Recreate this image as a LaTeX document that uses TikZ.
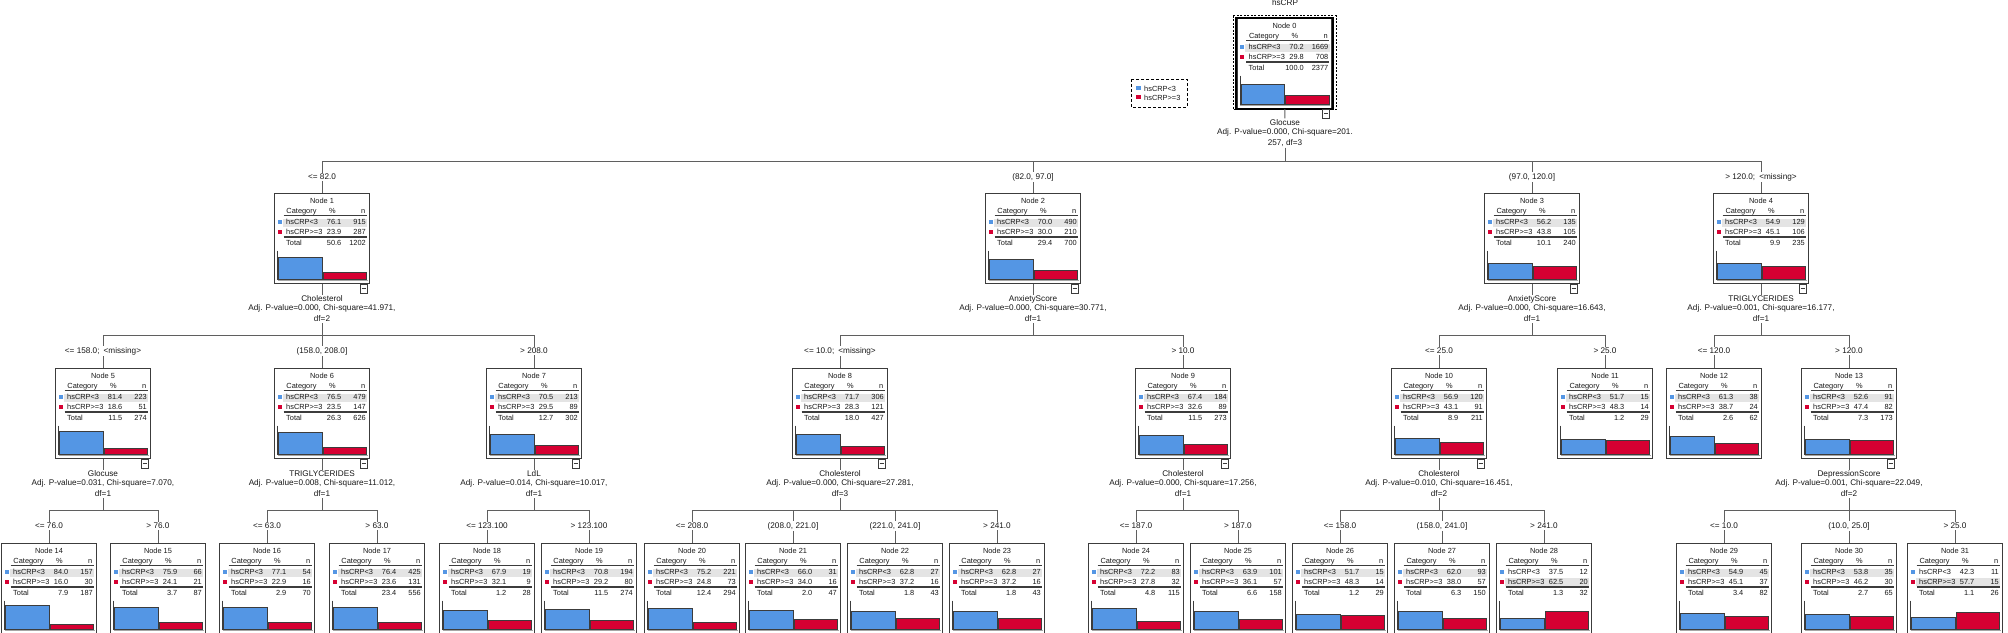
\documentclass[tikz,border=0pt]{standalone}
\usepackage{fontspec}
\setmainfont{Liberation Sans}
\definecolor{cblue}{RGB}{84,150,228}
\definecolor{cred}{RGB}{214,0,50}
\definecolor{lnc}{RGB}{95,95,95}
\definecolor{bdr}{RGB}{60,60,60}
\definecolor{band}{RGB}{228,228,228}
\definecolor{txtc}{RGB}{25,25,25}
\tikzset{
 every node/.style={font=\fontsize{8.2}{9.5}\selectfont, text=txtc, inner sep=0pt},
 nodebox/.style={draw=bdr, line width=1.2pt, minimum width=95pt, minimum height=90pt, anchor=north},
 conn/.style={draw=lnc, line width=1pt},
 elabel/.style={fill=white, inner sep=1.2pt, anchor=base},
 splittxt/.style={align=center, fill=white, inner sep=1pt},
 barbox/.style={draw=bdr, line width=0.8pt},
 rule/.style={draw=bdr, line width=0.9pt},
 dblrule/.style={draw=bdr, line width=1.4pt},
 collapsebox/.style={draw=bdr, line width=0.8pt, fill=white},
 legendbox/.style={draw=black, line width=0.8pt, dash pattern=on 3pt off 2pt},
 tabletext/.style={font=\fontsize{7.4}{9}\selectfont},
}
\newcommand\tnode[9]{%
 \node[nodebox] (n#3) at (#1,#2) {};
 \begin{scope}[shift={(#1-47.5,#2)}, every node/.append style={tabletext}]
  \ifdim #6pt>#4pt \fill[band] (8,35) rectangle (92.5,43);\else\fill[band] (8,25.5) rectangle (92.5,34);\fi
  \node[anchor=base] (n#3-t) at (47.5,10) {Node #3};
  \node[anchor=base] (n#3-hc) at (27,20) {Category};
  \node[anchor=base] (n#3-hp) at (58,20) {\%};
  \node[anchor=base east] (n#3-hn) at (91,20) {n};
  \draw[rule] (9,22.3) -- (92,22.3);
  \fill[cblue] (3,26.5) rectangle (7.3,30.8);
  \fill[cred] (3,36.5) rectangle (7.3,40.8);
  \node[anchor=base west] (n#3-c1) at (11.5,31) {hsCRP<3};
  \node[anchor=base west] (n#3-c2) at (11.5,41) {hsCRP>=3};
  \node[anchor=base east] (n#3-p1) at (67,31) {#4};
  \node[anchor=base east] (n#3-k1) at (91.5,31) {#5};
  \node[anchor=base east] (n#3-p2) at (67,41) {#6};
  \node[anchor=base east] (n#3-k2) at (91.5,41) {#7};
  \draw[dblrule] (9,44) -- (92,44);
  \node[anchor=base west] (n#3-tt) at (11.5,52.7) {Total};
  \node[anchor=base east] (n#3-pt) at (67,52.7) {#8};
  \node[anchor=base east] (n#3-kt) at (91.5,52.7) {#9};
  \draw[bdr, line width=0.8pt] (3,57.5) -- (3,87);
  \draw[gray!70, line width=1pt] (3,87.6) -- (93,87.6);
  \draw[barbox, fill=cblue] (4,86) rectangle (47.5,{86-#4*0.28});
  \draw[barbox, fill=cred] (48.5,86) rectangle (92,{86-#6*0.28});
 \end{scope}}
\newcommand\collapse[1]{%
 \draw[collapsebox] ([xshift=-10pt]n#1.south east) rectangle ++(7,9);
 \draw[bdr, line width=0.8pt] ([xshift=-8.5pt,yshift=-4.5pt]n#1.south east) -- ++(4,0);}
\newcommand\splitn[6]{%
 \node[splittxt] (s#1) at (#2,#3) {#4\\[-0.5pt]#5\\[1.5pt]#6};}
\begin{document}
\begin{tikzpicture}[x=1pt,y=-1pt]
\useasboundingbox (0,0) rectangle (2008,632);
\fill[white] (0,0) rectangle (2008,632);

% title and legend
\node[anchor=base] (title) at (1285,5.5) {hsCRP};
\draw[legendbox] (1131,79) rectangle (1187,107);
\fill[cblue] (1136,85.5) rectangle (1140.5,90);
\fill[cred] (1136,94.5) rectangle (1140.5,99);
\node[anchor=base west, tabletext] (leg1) at (1144,91) {hsCRP<3};
\node[anchor=base west, tabletext] (leg2) at (1144,100) {hsCRP>=3};

% ---------- level 0
\tnode{1284.5}{18}{0}{70.2}{1669}{29.8}{708}{100.0}{2377}
\draw[black, line width=2pt] (n0.north west) rectangle (n0.south east);
\draw[black, line width=0.8pt, dash pattern=on 2pt off 1.5pt] (1233,15.5) rectangle (1336,109.5);
\collapse{0}
\splitn{0}{1285}{133}{Glocuse}{Adj. P-value=0.000, Chi-square=201.}{257, df=3}

% ---------- level 1
\tnode{322}{193}{1}{76.1}{915}{23.9}{287}{50.6}{1202}
\tnode{1033}{193}{2}{70.0}{490}{30.0}{210}{29.4}{700}
\tnode{1532}{193}{3}{56.2}{135}{43.8}{105}{10.1}{240}
\tnode{1761}{193}{4}{54.9}{129}{45.1}{106}{9.9}{235}
\collapse{1}\collapse{2}\collapse{3}\collapse{4}
\splitn{1}{322}{309}{Cholesterol}{Adj. P-value=0.000, Chi-square=41.971,}{df=2}
\splitn{2}{1033}{309}{AnxietyScore}{Adj. P-value=0.000, Chi-square=30.771,}{df=1}
\splitn{3}{1532}{309}{AnxietyScore}{Adj. P-value=0.000, Chi-square=16.643,}{df=1}
\splitn{4}{1761}{309}{TRIGLYCERIDES}{Adj. P-value=0.001, Chi-square=16.177,}{df=1}

% ---------- level 2
\tnode{103}{368}{5}{81.4}{223}{18.6}{51}{11.5}{274}
\tnode{322}{368}{6}{76.5}{479}{23.5}{147}{26.3}{626}
\tnode{534}{368}{7}{70.5}{213}{29.5}{89}{12.7}{302}
\tnode{840}{368}{8}{71.7}{306}{28.3}{121}{18.0}{427}
\tnode{1183}{368}{9}{67.4}{184}{32.6}{89}{11.5}{273}
\tnode{1439}{368}{10}{56.9}{120}{43.1}{91}{8.9}{211}
\tnode{1605}{368}{11}{51.7}{15}{48.3}{14}{1.2}{29}
\tnode{1714}{368}{12}{61.3}{38}{38.7}{24}{2.6}{62}
\tnode{1849}{368}{13}{52.6}{91}{47.4}{82}{7.3}{173}
\collapse{5}\collapse{6}\collapse{7}\collapse{8}\collapse{9}\collapse{10}\collapse{13}
\splitn{5}{103}{484}{Glocuse}{Adj. P-value=0.031, Chi-square=7.070,}{df=1}
\splitn{6}{322}{484}{TRIGLYCERIDES}{Adj. P-value=0.008, Chi-square=11.012,}{df=1}
\splitn{7}{534}{484}{LdL}{Adj. P-value=0.014, Chi-square=10.017,}{df=1}
\splitn{8}{840}{484}{Cholesterol}{Adj. P-value=0.000, Chi-square=27.281,}{df=3}
\splitn{9}{1183}{484}{Cholesterol}{Adj. P-value=0.000, Chi-square=17.256,}{df=1}
\splitn{10}{1439}{484}{Cholesterol}{Adj. P-value=0.010, Chi-square=16.451,}{df=2}
\splitn{13}{1849}{484}{DepressionScore}{Adj. P-value=0.001, Chi-square=22.049,}{df=2}

% ---------- level 3
\tnode{49}{543}{14}{84.0}{157}{16.0}{30}{7.9}{187}
\tnode{158}{543}{15}{75.9}{66}{24.1}{21}{3.7}{87}
\tnode{267}{543}{16}{77.1}{54}{22.9}{16}{2.9}{70}
\tnode{377}{543}{17}{76.4}{425}{23.6}{131}{23.4}{556}
\tnode{487}{543}{18}{67.9}{19}{32.1}{9}{1.2}{28}
\tnode{589}{543}{19}{70.8}{194}{29.2}{80}{11.5}{274}
\tnode{692}{543}{20}{75.2}{221}{24.8}{73}{12.4}{294}
\tnode{793}{543}{21}{66.0}{31}{34.0}{16}{2.0}{47}
\tnode{895}{543}{22}{62.8}{27}{37.2}{16}{1.8}{43}
\tnode{997}{543}{23}{62.8}{27}{37.2}{16}{1.8}{43}
\tnode{1136}{543}{24}{72.2}{83}{27.8}{32}{4.8}{115}
\tnode{1238}{543}{25}{63.9}{101}{36.1}{57}{6.6}{158}
\tnode{1340}{543}{26}{51.7}{15}{48.3}{14}{1.2}{29}
\tnode{1442}{543}{27}{62.0}{93}{38.0}{57}{6.3}{150}
\tnode{1544}{543}{28}{37.5}{12}{62.5}{20}{1.3}{32}
\tnode{1724}{543}{29}{54.9}{45}{45.1}{37}{3.4}{82}
\tnode{1849}{543}{30}{53.8}{35}{46.2}{30}{2.7}{65}
\tnode{1955}{543}{31}{42.3}{11}{57.7}{15}{1.1}{26}

% ---------- connectors: node -> split
\foreach \k in {0,1,2,3,4,5,6,7,8,9,10,13}{\draw[conn] (n\k) -- (s\k);}

% ---------- buses
\coordinate (b0) at (1285,161);
\coordinate (b1) at (322,335);
\coordinate (b2) at (1033,335);
\coordinate (b3) at (1532,335);
\coordinate (b4) at (1761,335);
\coordinate (b5) at (103,510);
\coordinate (b6) at (322,510);
\coordinate (b7) at (534,510);
\coordinate (b8) at (840,510);
\coordinate (b9) at (1183,510);
\coordinate (b10) at (1439,510);
\coordinate (b13) at (1849,510);
\foreach \k in {0,1,2,3,4,5,6,7,8,9,10,13}{\draw[conn] (s\k) -- (b\k);}
\foreach \p/\a/\z in {0/1/4,1/5/7,2/8/9,3/10/11,4/12/13,5/14/15,6/16/17,7/18/19,8/20/23,9/24/25,10/26/28,13/29/31}{
  \draw[conn] (b\p -| n\a.north) -- (b\p -| n\z.north);}
\foreach \p/\c in {0/1,0/2,0/3,0/4,1/5,1/6,1/7,2/8,2/9,3/10,3/11,4/12,4/13,5/14,5/15,6/16,6/17,7/18,7/19,8/20,8/21,8/22,8/23,9/24,9/25,10/26,10/27,10/28,13/29,13/30,13/31}{
  \draw[conn] (b\p -| n\c.north) -- (n\c.north);}

% ---------- edge labels
\node[elabel] (l1) at (322,179.5) {<= 82.0};
\node[elabel] (l2) at (1033,179.5) {(82.0, 97.0]};
\node[elabel] (l3) at (1532,179.5) {(97.0, 120.0]};
\node[elabel] (l4) at (1761,179.5) {> 120.0;\enspace<missing>};
\node[elabel] (l5) at (103,353.5) {<= 158.0;\enspace<missing>};
\node[elabel] (l6) at (322,353.5) {(158.0, 208.0]};
\node[elabel] (l7) at (534,353.5) {> 208.0};
\node[elabel] (l8) at (840,353.5) {<= 10.0;\enspace<missing>};
\node[elabel] (l9) at (1183,353.5) {> 10.0};
\node[elabel] (l10) at (1439,353.5) {<= 25.0};
\node[elabel] (l11) at (1605,353.5) {> 25.0};
\node[elabel] (l12) at (1714,353.5) {<= 120.0};
\node[elabel] (l13) at (1849,353.5) {> 120.0};
\node[elabel] (l14) at (49,528.5) {<= 76.0};
\node[elabel] (l15) at (158,528.5) {> 76.0};
\node[elabel] (l16) at (267,528.5) {<= 63.0};
\node[elabel] (l17) at (377,528.5) {> 63.0};
\node[elabel] (l18) at (487,528.5) {<= 123.100};
\node[elabel] (l19) at (589,528.5) {> 123.100};
\node[elabel] (l20) at (692,528.5) {<= 208.0};
\node[elabel] (l21) at (793,528.5) {(208.0, 221.0]};
\node[elabel] (l22) at (895,528.5) {(221.0, 241.0]};
\node[elabel] (l23) at (997,528.5) {> 241.0};
\node[elabel] (l24) at (1136,528.5) {<= 187.0};
\node[elabel] (l25) at (1238,528.5) {> 187.0};
\node[elabel] (l26) at (1340,528.5) {<= 158.0};
\node[elabel] (l27) at (1442,528.5) {(158.0, 241.0]};
\node[elabel] (l28) at (1544,528.5) {> 241.0};
\node[elabel] (l29) at (1724,528.5) {<= 10.0};
\node[elabel] (l30) at (1849,528.5) {(10.0, 25.0]};
\node[elabel] (l31) at (1955,528.5) {> 25.0};
\end{tikzpicture}
\end{document}
